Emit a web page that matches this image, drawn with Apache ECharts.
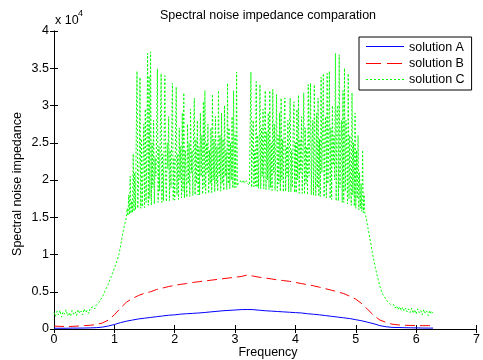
<!DOCTYPE html>
<html><head><meta charset="utf-8">
<script src="https://cdn.jsdelivr.net/npm/echarts@6/dist/echarts.min.js"></script>
<style>html,body{margin:0;padding:0;background:#fff}#c{width:483px;height:360px}</style>
</head><body><div id="c"></div>
<script>
// ---------- data (values in units of 10^4) ----------
const seriesNames = ['solution A', 'solution B', 'solution C'];
const seriesColors = ['#0000ff', '#ff0000', '#00ff00'];
const xTicks = [0, 1, 2, 3, 4, 5, 6, 7];
const yTicks = [0, 0.5, 1, 1.5, 2, 2.5, 3, 3.5, 4];

const xAB = [0,0.1,0.2,0.3,0.4,0.5,0.6,0.7,0.8,0.9,
  1.0,1.1,1.2,1.3,1.4,1.5,1.6,1.7,1.8,1.9,
  2.0,2.1,2.2,2.3,2.4,2.5,2.6,2.7,2.8,2.9,
  3.0,3.1,3.2,3.3,3.4,3.5,3.6,3.7,3.8,3.9,
  4.0,4.1,4.2,4.3,4.4,4.5,4.6,4.7,4.8,4.9,
  5.0,5.1,5.2,5.3,5.4,5.5,5.6,5.7,5.8,5.9,
  6.0,6.1,6.2,6.28];

const solutionA = [0.010,0.010,0.010,0.012,0.012,0.013,0.015,0.018,0.025,0.040,
  0.060,0.085,0.105,0.120,0.135,0.145,0.155,0.165,0.175,0.185,
  0.190,0.200,0.205,0.210,0.215,0.222,0.230,0.237,0.245,0.250,
  0.255,0.260,0.262,0.260,0.252,0.245,0.240,0.235,0.230,0.225,
  0.220,0.215,0.205,0.198,0.190,0.180,0.170,0.160,0.150,0.140,
  0.125,0.110,0.090,0.070,0.045,0.030,0.022,0.020,0.018,0.016,
  0.015,0.013,0.012,0.012];

const solutionB = [0.040,0.035,0.035,0.035,0.040,0.045,0.050,0.060,0.080,0.120,
  0.190,0.280,0.360,0.410,0.450,0.480,0.500,0.530,0.550,0.570,
  0.585,0.600,0.610,0.625,0.635,0.645,0.655,0.665,0.675,0.685,
  0.695,0.705,0.725,0.710,0.695,0.685,0.672,0.660,0.650,0.640,
  0.625,0.610,0.595,0.580,0.560,0.540,0.520,0.500,0.475,0.440,
  0.400,0.340,0.260,0.180,0.120,0.090,0.065,0.055,0.050,0.048,
  0.046,0.045,0.045,0.045];

// solution C, left part: x = 0 .. 1.175, step 0.025 (8 per row)
const cLeftStart = 0, cLeftStep = 0.025;
const solutionCLeft = [
  0.22,0.17,0.24,0.19,0.25,0.16,0.23,0.20,
  0.26,0.18,0.22,0.17,0.25,0.20,0.23,0.18,
  0.26,0.21,0.24,0.19,0.27,0.22,0.25,0.21,
  0.28,0.26,0.30,0.27,0.32,0.30,0.36,0.40,
  0.43,0.47,0.52,0.56,0.60,0.66,0.71,0.76,
  0.82,0.87,0.93,1.00,1.10,1.22,1.33,1.42];

// solution C, middle part: x = 1.2 .. 5.1875, step 0.0125 (16 per row of 0.2)
const cMidStart = 1.2, cMidStep = 0.0125;
const solutionCMid = [
  1.50,1.62,1.52,1.80,1.54,2.05,1.55,1.72,1.56,2.35,1.58,2.10,1.60,2.60,3.46,1.62,
  1.60,2.30,3.38,1.62,2.55,1.64,2.20,2.75,1.63,2.95,1.70,2.40,3.70,1.66,3.40,1.75,
  3.72,1.66,2.50,1.90,2.80,1.68,2.30,2.05,2.60,3.49,1.70,2.45,1.85,2.70,3.43,1.70,
  2.35,1.72,2.60,3.40,1.95,1.71,2.50,2.15,2.85,1.72,2.40,1.90,2.65,3.30,1.74,2.30,
  1.73,2.55,3.25,1.80,2.35,1.74,2.70,2.00,2.45,1.76,2.90,1.85,3.17,1.76,2.40,2.05,
  1.77,2.75,1.95,2.50,1.78,2.95,2.10,2.40,1.79,2.65,3.10,1.80,2.55,1.95,2.80,1.80,
  2.45,1.80,2.90,2.05,2.60,1.81,3.05,1.90,3.20,1.82,2.50,2.10,2.75,1.82,2.40,1.95,
  2.70,1.83,3.15,2.00,2.55,1.84,2.85,1.95,2.45,1.85,3.20,2.05,2.60,1.85,2.90,1.95,
  2.55,1.86,3.00,2.05,2.40,1.87,3.30,1.95,2.70,1.88,2.50,2.00,2.85,1.89,3.20,1.90,
  2.60,1.90,3.45,1.92,1.95,1.97,1.94,1.99,1.96,1.98,1.95,2.00,1.96,1.97,1.95,1.99,
  1.96,1.97,1.94,1.93,1.92,3.45,1.90,2.50,2.80,1.91,2.40,1.92,3.32,1.90,2.60,1.89,
  2.45,3.28,1.88,2.70,2.05,2.95,1.88,2.50,3.20,1.87,2.65,2.00,2.90,1.87,3.20,1.90,
  2.50,1.86,3.22,2.10,2.75,1.86,2.45,3.15,1.85,2.60,1.95,2.90,1.85,3.10,2.00,2.55,
  1.84,2.80,3.10,1.85,2.45,2.05,2.80,1.84,2.60,3.10,1.84,2.40,1.90,2.65,3.05,1.83,
  2.50,1.83,2.95,2.00,3.14,1.82,2.55,2.10,2.85,1.82,2.40,3.17,1.81,2.70,1.95,2.45,
  1.80,3.28,2.05,2.60,3.30,1.80,2.50,2.80,1.79,3.28,2.20,1.79,2.90,1.90,3.10,1.78,
  2.55,1.78,3.38,2.10,2.70,3.43,1.77,2.60,2.85,1.76,3.43,1.95,2.50,3.46,1.75,2.70,
  1.74,3.00,2.20,2.60,2.00,3.70,1.72,2.90,3.00,1.72,3.68,1.90,2.50,2.80,1.70,3.20,
  1.70,3.50,1.85,2.80,2.40,1.68,3.43,1.75,2.60,2.00,1.66,3.17,1.80,2.50,1.65,2.90,
  1.62,2.40,1.75,2.60,1.60,2.10,1.62,1.95,1.58,2.40,1.56,1.80,1.55,1.52,1.48,1.42];

// solution C, right part: x = 5.2 .. 6.275, step 0.025 (8 per row)
const cRightStart = 5.2, cRightStep = 0.025;
const solutionCRight = [
  1.36,1.25,1.14,1.02,0.92,0.82,0.73,0.65,
  0.57,0.51,0.46,0.43,0.40,0.37,0.35,0.33,
  0.31,0.33,0.28,0.31,0.26,0.30,0.25,0.29,
  0.24,0.28,0.23,0.27,0.22,0.28,0.21,0.26,
  0.20,0.27,0.22,0.25,0.19,0.26,0.21,0.24,
  0.18,0.25,0.20,0.23];

// ---------- build ----------
const FONT = "'Liberation Sans', Arial, Helvetica, sans-serif";
const lineTypes = ['solid', [10, 5], [2, 2]];
const legendDash = [null, [15, 6], [2, 2]];
const pairs = (xs, ys) => ys.map((v, i) => [xs[i], v]);
const onGrid = (start, step, ys) => ys.map((v, i) => [+(start + i * step).toFixed(4), v]);
const dataA = pairs(xAB, solutionA);
const dataB = pairs(xAB, solutionB);
const dataC = [].concat(
  onGrid(cLeftStart, cLeftStep, solutionCLeft),
  onGrid(cMidStart, cMidStep, solutionCMid),
  onGrid(cRightStart, cRightStep, solutionCRight));

const axisCommon = {
  axisLine: { show: true, lineStyle: { color: '#000', width: 1 } },
  axisTick: { show: true, inside: true, length: 4, lineStyle: { color: '#000' } },
  splitLine: { show: false }
};
const labelStyle = { color: '#000', fontSize: 12.5, fontFamily: FONT };

// legend layout (box + text by the legend component, line samples drawn on top of its icon slots)
const LEG_LEFT = 359, LEG_TOP = 37, LEG_PAD_T = 4, LEG_PAD_L = 7, LEG_ITEM_W = 38, LEG_ITEM_H = 10, LEG_ROW = 16.5;
const legendSamples = seriesNames.map((n, i) => {
  const y = Math.round(LEG_TOP + LEG_PAD_T + LEG_ITEM_H / 2 + i * LEG_ROW) + 0.5;
  const x1 = LEG_LEFT + LEG_PAD_L;
  return { type: 'line', z: 100, silent: true,
    shape: { x1: x1, y1: y, x2: x1 + LEG_ITEM_W, y2: y },
    style: { stroke: seriesColors[i], lineWidth: 1, lineDash: legendDash[i] } };
});

const chart = echarts.init(document.getElementById('c'), null, { renderer: 'canvas' });
chart.setOption({
  animation: false,
  backgroundColor: '#fff',
  grid: { left: 54, right: 0, top: 31, bottom: 31, containLabel: false },
  xAxis: [
    Object.assign({ type: 'value', min: xTicks[0], max: xTicks[xTicks.length - 1], interval: 1, position: 'bottom',
      axisLabel: Object.assign({ margin: 4 }, labelStyle) }, axisCommon),
    Object.assign({ type: 'value', min: xTicks[0], max: xTicks[xTicks.length - 1], interval: 1, position: 'top',
      axisLabel: { show: false } }, axisCommon)
  ],
  yAxis: [
    Object.assign({ type: 'value', min: yTicks[0], max: yTicks[yTicks.length - 1], interval: 0.5, position: 'left',
      axisLabel: Object.assign({ margin: 5 }, labelStyle) }, axisCommon),
    Object.assign({ type: 'value', min: yTicks[0], max: yTicks[yTicks.length - 1], interval: 0.5, position: 'right',
      axisLabel: { show: false } }, axisCommon)
  ],
  legend: {
    orient: 'vertical', left: LEG_LEFT, top: LEG_TOP,
    data: seriesNames,
    itemWidth: LEG_ITEM_W, itemHeight: LEG_ITEM_H, itemGap: 3,
    padding: [LEG_PAD_T, LEG_PAD_L, 4, LEG_PAD_L],
    borderColor: '#000', borderWidth: 1, backgroundColor: '#fff',
    itemStyle: { opacity: 0 },
    lineStyle: { opacity: 0, width: 0 },
    textStyle: { color: '#000', fontSize: 12.5, fontFamily: FONT },
    selectedMode: false
  },
  graphic: [
    { type: 'text', x: 268, y: 16, style: { text: 'Spectral noise impedance comparation', font: '12.5px ' + FONT,
        fill: '#000', align: 'center', verticalAlign: 'middle', textAlign: 'center', textVerticalAlign: 'middle' } },
    { type: 'text', x: 55, y: 21, style: { text: 'x 10', font: '12.5px ' + FONT,
        fill: '#000', align: 'left', verticalAlign: 'middle', textAlign: 'left', textVerticalAlign: 'middle' } },
    { type: 'text', x: 78, y: 14, style: { text: '4', font: '9px ' + FONT,
        fill: '#000', align: 'left', verticalAlign: 'middle', textAlign: 'left', textVerticalAlign: 'middle' } },
    { type: 'text', x: 268, y: 353, style: { text: 'Frequency', font: '12.5px ' + FONT,
        fill: '#000', align: 'center', verticalAlign: 'middle', textAlign: 'center', textVerticalAlign: 'middle' } },
    { type: 'text', x: 18, y: 184, rotation: Math.PI / 2, style: { text: 'Spectral noise impedance', font: '12.5px ' + FONT,
        fill: '#000', align: 'center', verticalAlign: 'middle', textAlign: 'center', textVerticalAlign: 'middle' } }
  ].concat(legendSamples),
  series: [
    { name: seriesNames[0], type: 'line', data: dataA, showSymbol: false, symbol: 'none',
      lineStyle: { color: seriesColors[0], width: 1, type: lineTypes[0] }, itemStyle: { color: seriesColors[0] }, z: 2 },
    { name: seriesNames[1], type: 'line', data: dataB, showSymbol: false, symbol: 'none',
      lineStyle: { color: seriesColors[1], width: 1, type: lineTypes[1] }, itemStyle: { color: seriesColors[1] }, z: 3 },
    { name: seriesNames[2], type: 'line', data: dataC, showSymbol: false, symbol: 'none',
      lineStyle: { color: seriesColors[2], width: 1, type: lineTypes[2] }, itemStyle: { color: seriesColors[2] }, z: 4 }
  ]
});
</script></body></html>
